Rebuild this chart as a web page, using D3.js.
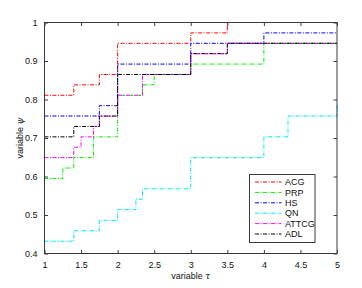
<!DOCTYPE html>
<html>
<head>
<meta charset="utf-8">
<script src="https://cdn.jsdelivr.net/npm/d3@7"></script>
<style>
  body { margin: 0; background: #fff; }
  svg { display: block; font-family: "Liberation Sans", Arial, sans-serif; }
</style>
</head>
<body>
<div class="container"></div>
<script>
// performance profiles
const solvers = ['ACG', 'PRP', 'HS', 'QN', 'ATTCG', 'ADL']
const colors = ['#ff0000', '#00ee00', '#0000ff', '#00e5ee', '#ff00ff', '#000000']

const tauACG = [1, 1.4, 1.75, 2, 3, 3.5, 5]
const psiACG = [0.811, 0.838, 0.865, 0.946, 0.973, 1, 1]

const tauPRP = [1, 1.25, 1.4, 1.67, 2, 2.34, 2.5, 3, 4, 5]
const psiPRP = [0.595, 0.622, 0.649, 0.703, 0.811, 0.838, 0.865, 0.892, 0.946, 0.946]

const tauHS = [1, 1.75, 2, 3, 4, 5]
const psiHS = [0.757, 0.784, 0.892, 0.946, 0.973, 0.973]

const tauQN = [1, 1.4, 1.75, 2, 2.25, 2.34, 3, 4, 4.33, 5]
const psiQN = [0.432, 0.459, 0.486, 0.514, 0.541, 0.568, 0.649, 0.703, 0.757, 0.784]

const tauATTCG = [1, 1.4, 1.5, 1.67, 1.75, 2, 2.34, 3, 3.5, 5]
const psiATTCG = [0.649, 0.676, 0.703, 0.730, 0.757, 0.811, 0.865, 0.919, 0.946, 0.946]

const tauADL = [1, 1.4, 1.75, 2, 3, 3.5, 5]
const psiADL = [0.703, 0.730, 0.757, 0.865, 0.919, 0.946, 0.946]

const xTicks = [1, 1.5, 2, 2.5, 3, 3.5, 4, 4.5, 5]
const yTicks = [0.4, 0.5, 0.6, 0.7, 0.8, 0.9, 1]

const taus = [tauACG, tauPRP, tauHS, tauQN, tauATTCG, tauADL]
const psis = [psiACG, psiPRP, psiHS, psiQN, psiATTCG, psiADL]

const width = 362
const height = 288
const padLeft = 44.5, padRight = 337, padTop = 22.5, padBottom = 253.5
const axisColor = '#3a3a3a'
const dash = '4,1.5,1,1.5'

const svg = d3.select('.container').append('svg')
  .attr('width', width).attr('height', height)

const x = d3.scaleLinear().domain([1, 5]).range([padLeft, padRight])
const y = d3.scaleLinear().domain([0.4, 1]).range([padBottom, padTop])

// lines
const line = d3.line()
  .x(d => x(d[0]))
  .y(d => y(d[1]))
  .curve(d3.curveStepAfter)

const plot = svg.append('g').attr('class', 'plot-layer')
solvers.forEach((name, i) => {
  const pts = taus[i].map((t, j) => [t, psis[i][j]])
  plot.append('path')
    .attr('d', line(pts))
    .attr('fill', 'none')
    .attr('stroke', colors[i])
    .attr('stroke-width', 1)
    .attr('stroke-dasharray', dash)
})

// axes (ticks inward, mirrored on top/right)
const tickLen = 3.5
const axesLayer = svg.append('g').attr('class', 'axes-layer')

axesLayer.append('g')
  .attr('transform', `translate(0, ${ padBottom })`)
  .call(d3.axisBottom(x).tickValues(xTicks).tickSize(-tickLen).tickPadding(8)
    .tickFormat(d3.format('')))
axesLayer.append('g')
  .attr('transform', `translate(0, ${ padTop })`)
  .call(d3.axisTop(x).tickValues(xTicks).tickSize(-tickLen).tickFormat(''))
axesLayer.append('g')
  .attr('transform', `translate(${ padLeft }, 0)`)
  .call(d3.axisLeft(y).tickValues(yTicks).tickSize(-tickLen).tickPadding(7)
    .tickFormat(d3.format('')))
axesLayer.append('g')
  .attr('transform', `translate(${ padRight }, 0)`)
  .call(d3.axisRight(y).tickValues(yTicks).tickSize(-tickLen).tickFormat(''))

axesLayer.selectAll('.domain').remove()
axesLayer.selectAll('.tick line').attr('stroke', axisColor)
axesLayer.selectAll('.tick text')
  .attr('font-size', 9)
  .attr('font-family', '"Liberation Sans", Arial, sans-serif')
  .attr('fill', '#111')

axesLayer.append('rect')
  .attr('x', padLeft).attr('y', padTop)
  .attr('width', padRight - padLeft).attr('height', padBottom - padTop)
  .attr('fill', 'none')
  .attr('stroke', axisColor)
  .attr('stroke-width', 1)

// axis labels
const xLabel = svg.append('text')
  .attr('x', (padLeft + padRight) / 2).attr('y', 279)
  .attr('text-anchor', 'middle')
  .attr('font-size', 9)
  .attr('fill', '#111')
xLabel.append('tspan').text('variable ')
xLabel.append('tspan').attr('font-style', 'italic').attr('font-family', '"DejaVu Serif", serif').text('τ')

const yLabel = svg.append('text')
  .attr('transform', `translate(23, ${ (padTop + padBottom) / 2 }) rotate(-90)`)
  .attr('text-anchor', 'middle')
  .attr('font-size', 9)
  .attr('fill', '#111')
yLabel.append('tspan').text('variable ')
yLabel.append('tspan').attr('font-style', 'italic').attr('font-family', '"DejaVu Serif", serif').text('ψ')

// legend
const legend = svg.append('g').attr('class', 'legend')
const lx = 249.5, ly = 174.5, lw = 65.5, lh = 68
legend.append('rect')
  .attr('x', lx).attr('y', ly).attr('width', lw).attr('height', lh)
  .attr('fill', '#fff').attr('stroke', axisColor).attr('stroke-width', 1)

solvers.forEach((name, i) => {
  const ry = ly + 7.5 + i * 10.4
  legend.append('line')
    .attr('x1', lx + 5.5).attr('x2', lx + 32)
    .attr('y1', ry).attr('y2', ry)
    .attr('stroke', colors[i])
    .attr('stroke-width', 1)
    .attr('stroke-dasharray', dash)
  legend.append('text')
    .attr('x', lx + 35.5).attr('y', ry + 3.2)
    .attr('font-size', 9)
    .attr('fill', '#111')
    .text(name)
})
</script>
</body>
</html>
